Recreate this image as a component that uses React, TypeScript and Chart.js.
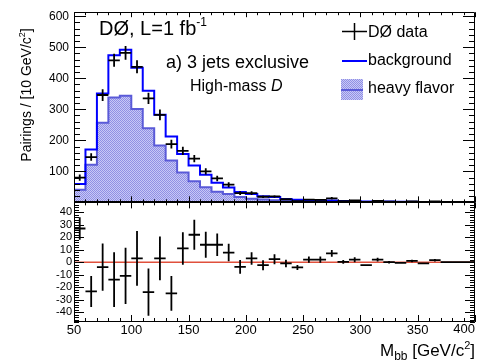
import React, { useEffect, useRef } from 'react';
import { Chart, registerables } from 'chart.js';

Chart.register(...registerables);

// ---- data ----
const BIN_WIDTH = 10;
const X_MIN = 50;
const X_MAX = 400;
const binLowEdges = [50, 60, 70, 80, 90, 100, 110, 120, 130, 140, 150, 160, 170, 180, 190, 200, 210, 220, 230, 240, 250, 260, 270, 280, 290, 300, 310, 320, 330, 340, 350, 360, 370, 380, 390];
const heavyFlavor = [41, 121, 257, 338, 344, 301, 239, 183, 135, 96, 68, 49, 34, 27, 17, 12, 9, 7, 5, 4, 3.5, 3, 2.5, 2, 2, 1.5, 1.5, 1, 1, 1, 0.8, 0.7, 0.6, 0.5, 0.5];
const background = [59, 170, 351, 474, 492, 434, 360, 282, 212, 156, 119, 89, 63, 48, 33, 27, 20, 17, 11, 8, 7, 6, 6, 4, 4, 3, 3, 2.5, 2, 2, 1.5, 1.5, 1, 1, 1];
const dataCounts = [80, 146, 346, 458, 482, 437, 335, 282, 188, 166, 141, 100, 77, 57, 30, 30, 18, 19, 10, 4, 9, 8, 13, 4, 6, 1, 5, 2.5, 1.5, 3, 0.5, 3, 1, 1, 1];
const dataErrors = [10, 12, 19, 21, 22, 21, 18, 17, 14, 13, 12, 10, 9, 8, 6, 6, 4, 4, 3, 2, 3, 3, 4, 2, 2, 1, 2, 1, 1, 1, 1, 1, 1, 1, 1];
const residuals = [27, -23.5, -4, -14, -11, 3, -24, 3, -25, 11, 22, 14, 14, 7.7, -3.7, 3, -2.4, 2.4, -1, -4.2, 2, 2, 7, 0.3, 2, -2.4, 2, 0, -0.5, 1, -1, 1.6, 0, 0, 0];
const residualErrors = [9, 12.5, 19, 22, 22.5, 22, 19, 17.5, 14, 13, 12, 10.5, 9, 7, 5.5, 5, 4, 4, 3, 2, 2.5, 2.5, 2.7, 1.5, 2, 0.5, 1.5, 1, 0.5, 1, 0.5, 1, 0, 0, 0];

const TOP_Y_MAX = 613;
const BOTTOM_Y_MIN = -48;
const BOTTOM_Y_MAX = 48;

const FONT = "'Liberation Sans', Arial, Helvetica, sans-serif";
const BLUE = '#0000ff';
const HF_LINE = '#5a5ad8';
const RED = '#e0503c';

function stepPoints(values: number[]) {
  const pts = binLowEdges.map((lo, i) => ({ x: lo, y: values[i] }));
  pts.push({ x: X_MAX, y: values[values.length - 1] });
  return pts;
}

type Part = { t: string; size: number; dy?: number; italic?: boolean };
function richWidth(ctx: CanvasRenderingContext2D, parts: Part[]) {
  let w = 0;
  for (const p of parts) {
    ctx.font = `${p.italic ? 'italic ' : ''}${p.size}px ${FONT}`;
    w += ctx.measureText(p.t).width;
  }
  return w;
}
function drawRich(ctx: CanvasRenderingContext2D, parts: Part[], x: number, y: number) {
  let cx = x;
  ctx.textAlign = 'left';
  ctx.textBaseline = 'alphabetic';
  for (const p of parts) {
    ctx.font = `${p.italic ? 'italic ' : ''}${p.size}px ${FONT}`;
    ctx.fillText(p.t, cx, y + (p.dy || 0));
    cx += ctx.measureText(p.t).width;
  }
}

function drawFrameAndTicks(ctx: CanvasRenderingContext2D, xs: any, ys: any, left: number, right: number,
  yMajor: number, yMinor: number, yMajLen: number, yMinLen: number,
  topMaj: number, topMin: number, botMaj: number, botMin: number) {
  const top = ys.top;
  const bottom = ys.bottom;
  ctx.save();
  ctx.strokeStyle = '#000';
  ctx.lineWidth = 1;
  ctx.beginPath();
  ctx.rect(Math.round(left) + 0.5, Math.round(top) + 0.5, Math.round(right - left) - 1, Math.round(bottom - top) - 1);
  ctx.stroke();
  ctx.beginPath();
  const start = Math.ceil(ys.min / yMinor) * yMinor;
  for (let v = start; v <= ys.max + 1e-9; v += yMinor) {
    const py = Math.round(ys.getPixelForValue(v)) + 0.5;
    const isMajor = Math.abs(Math.round(v / yMajor) * yMajor - v) < 1e-6;
    const len = isMajor ? yMajLen : yMinLen;
    ctx.moveTo(left, py); ctx.lineTo(left + len, py);
    ctx.moveTo(right, py); ctx.lineTo(right - len, py);
  }
  for (let v = X_MIN; v <= X_MAX; v += BIN_WIDTH) {
    const px = Math.round(xs.getPixelForValue(v)) + 0.5;
    const isMajor = v % 50 === 0;
    ctx.moveTo(px, top); ctx.lineTo(px, top + (isMajor ? topMaj : topMin));
    ctx.moveTo(px, bottom); ctx.lineTo(px, bottom - (isMajor ? botMaj : botMin));
  }
  ctx.stroke();
  ctx.restore();
}

const overlayPlugin = {
  id: 'overlay',
  afterDatasetsDraw(chart: any) {
    const { ctx } = chart;
    const { x, y, y2 } = chart.scales;
    ctx.save();
    ctx.strokeStyle = '#000';
    ctx.lineWidth = 1.8;
    ctx.beginPath();
    binLowEdges.forEach((lo, i) => {
      const xl = x.getPixelForValue(lo);
      const xr = x.getPixelForValue(lo + BIN_WIDTH);
      const xc = x.getPixelForValue(lo + BIN_WIDTH / 2);
      // data points (top)
      const v = dataCounts[i];
      const e = dataErrors[i];
      const yc = y.getPixelForValue(v);
      ctx.moveTo(xl, yc); ctx.lineTo(xr, yc);
      if (e > 0) {
        ctx.moveTo(xc, y.getPixelForValue(v + e));
        ctx.lineTo(xc, y.getPixelForValue(Math.max(0, v - e)));
      }
      // residuals (bottom)
      const r = residuals[i];
      const re = residualErrors[i];
      const ry = y2.getPixelForValue(r);
      ctx.moveTo(xl, ry); ctx.lineTo(xr, ry);
      if (re > 0) {
        ctx.moveTo(xc, y2.getPixelForValue(r + re));
        ctx.lineTo(xc, y2.getPixelForValue(r - re));
      }
    });
    ctx.stroke();
    ctx.restore();
  },
  afterDraw(chart: any) {
    const { ctx, chartArea } = chart;
    const { x, y, y2 } = chart.scales;
    const left = chartArea.left;
    const right = chartArea.right;
    drawFrameAndTicks(ctx, x, y, left, right, 100, 20, 12, 6, 5, 3, 6, 3);
    drawFrameAndTicks(ctx, x, y2, left, right, 10, 2, 10, 5, 6, 3, 7, 4);

    ctx.save();
    ctx.fillStyle = '#000';
    // last x tick label, kept inside the frame like the original
    ctx.font = `13px ${FONT}`;
    ctx.textAlign = 'right';
    ctx.textBaseline = 'top';
    ctx.fillText(String(X_MAX), x.getPixelForValue(X_MAX), x.top + 1);

    // annotations
    drawRich(ctx, [{ t: 'DØ, L=1 fb', size: 20 }, { t: '-1', size: 12, dy: -9 }], 99, 35);
    drawRich(ctx, [{ t: 'a) 3 jets exclusive', size: 18 }], 166, 68);
    drawRich(ctx, [{ t: 'High-mass ', size: 16 }, { t: 'D', size: 16, italic: true }], 190, 91);

    // legend
    ctx.strokeStyle = '#000';
    ctx.lineWidth = 1.5;
    ctx.beginPath();
    ctx.moveTo(342, 31.5); ctx.lineTo(367, 31.5);
    ctx.moveTo(354.5, 23); ctx.lineTo(354.5, 40);
    ctx.stroke();
    ctx.strokeStyle = BLUE;
    ctx.lineWidth = 2;
    ctx.beginPath();
    ctx.moveTo(342, 61); ctx.lineTo(367, 61);
    ctx.stroke();
    const hfDs = chart.data.datasets[1];
    ctx.fillStyle = hfDs.backgroundColor;
    ctx.fillRect(341, 79, 22, 21);
    ctx.strokeStyle = HF_LINE;
    ctx.beginPath();
    ctx.moveTo(341, 90); ctx.lineTo(363, 90);
    ctx.stroke();
    ctx.fillStyle = '#000';
    drawRich(ctx, [{ t: 'DØ data', size: 16 }], 368, 37);
    drawRich(ctx, [{ t: 'background', size: 16 }], 368, 65);
    drawRich(ctx, [{ t: 'heavy flavor', size: 16 }], 368, 93);

    // x title
    const xt: Part[] = [
      { t: 'M', size: 17 }, { t: 'bb', size: 12, dy: 4 }, { t: ' [GeV/c', size: 17 },
      { t: '2', size: 11, dy: -7 }, { t: ']', size: 17 },
    ];
    const xw = richWidth(ctx, xt);
    drawRich(ctx, xt, right - xw, 356);

    // y title (rotated)
    const yt: Part[] = [{ t: 'Pairings / [10 GeV/c', size: 14 }, { t: '2', size: 9, dy: -6 }, { t: ']', size: 14 }];
    const yw = richWidth(ctx, yt);
    ctx.translate(31, 95);
    ctx.rotate(-Math.PI / 2);
    drawRich(ctx, yt, -yw / 2, 0);
    ctx.restore();
  },
};

export default function App() {
  const canvasRef = useRef<HTMLCanvasElement | null>(null);

  useEffect(() => {
    const canvas = canvasRef.current;
    if (!canvas) return;
    const pc = document.createElement('canvas');
    pc.width = 2;
    pc.height = 2;
    const pctx = pc.getContext('2d')!;
    pctx.fillStyle = '#c8c8f6';
    pctx.fillRect(0, 0, 2, 2);
    pctx.fillStyle = '#9090e4';
    pctx.fillRect(0, 0, 1, 1);
    pctx.fillRect(1, 1, 1, 1);
    const pattern = canvas.getContext('2d')!.createPattern(pc, 'repeat');

    const tickFont = { family: FONT, size: 12 };
    const chart = new Chart(canvas, {
      type: 'line',
      data: {
        datasets: [
          {
            label: 'background', data: stepPoints(background), yAxisID: 'y', stepped: true,
            borderColor: BLUE, borderWidth: 2, pointRadius: 0, fill: false,
          },
          {
            label: 'heavy flavor', data: stepPoints(heavyFlavor), yAxisID: 'y', stepped: true,
            borderColor: HF_LINE, borderWidth: 2, pointRadius: 0, fill: 'origin', backgroundColor: pattern as any,
          },
          {
            label: 'zero', data: [{ x: X_MIN, y: 0 }, { x: X_MAX, y: 0 }], yAxisID: 'y2',
            borderColor: RED, borderWidth: 1.5, pointRadius: 0, fill: false,
          },
        ],
      },
      options: {
        animation: false,
        responsive: false,
        events: [],
        layout: { padding: { top: 10, right: 10, left: 0, bottom: 0 } },
        plugins: { legend: { display: false }, tooltip: { enabled: false } },
        scales: {
          x: {
            type: 'linear', min: X_MIN, max: X_MAX,
            grid: { display: false, drawTicks: false }, border: { display: false },
            ticks: {
              stepSize: 50, autoSkip: false, maxRotation: 0, padding: 1, color: '#000',
              font: { family: FONT, size: 13 },
              callback: (v: any) => (v === X_MAX ? '' : String(v)),
            },
            afterFit: (s: any) => { s.height = 40; },
          },
          y: {
            type: 'linear', position: 'left', stack: 'panels', stackWeight: 191.5, weight: 2,
            min: 0, max: TOP_Y_MAX,
            grid: { display: false, drawTicks: false }, border: { display: false },
            ticks: {
              stepSize: 100, autoSkip: false, includeBounds: false, padding: 5, color: '#000', font: tickFont,
              callback: (v: any) => (v === 0 ? '' : String(v)),
            },
            afterFit: (s: any) => { s.width = 74; },
          },
          y2: {
            type: 'linear', position: 'left', stack: 'panels', stackWeight: 120.5, weight: 1,
            min: BOTTOM_Y_MIN, max: BOTTOM_Y_MAX,
            grid: { display: false, drawTicks: false }, border: { display: false },
            ticks: {
              stepSize: 10, autoSkip: false, includeBounds: false, padding: 2, color: '#000',
              font: { family: FONT, size: 11 },
            },
            afterFit: (s: any) => { s.width = 74; },
          },
        },
      } as any,
      plugins: [overlayPlugin],
    });
    return () => chart.destroy();
  }, []);

  return (
    <div style={{ position: 'absolute', left: 0, top: 0, width: 485, height: 362, background: '#fff' }}>
      <canvas ref={canvasRef} width={485} height={362} style={{ display: 'block' }} />
    </div>
  );
}
